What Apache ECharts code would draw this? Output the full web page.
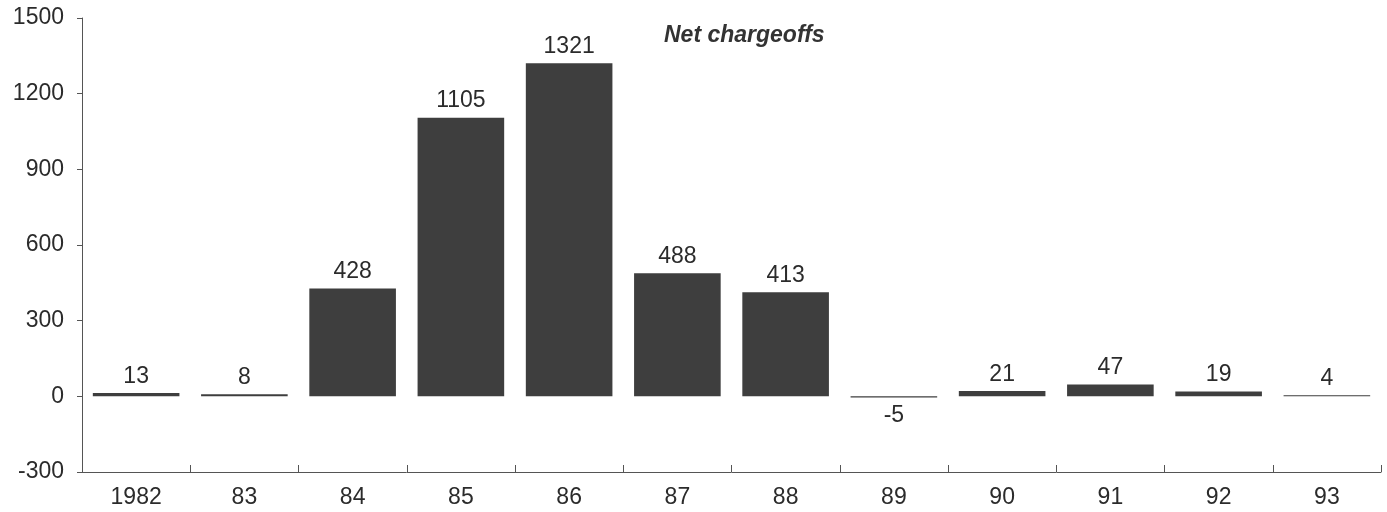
<!DOCTYPE html>
<html>
<head>
<meta charset="utf-8">
<script src="https://cdn.jsdelivr.net/npm/echarts@6/dist/echarts.min.js"></script>
<style>
  html, body { margin: 0; padding: 0; background: #fff; }
  #chart { width: 1387px; height: 512px; }
</style>
</head>
<body>
<div id="chart"></div>
<script>
// 数据
const years = ['1982', '83', '84', '85', '86', '87', '88', '89', '90', '91', '92', '93'];
const netChargeoffs = [13, 8, 428, 1105, 1321, 488, 413, -5, 21, 47, 19, 4];
const yTicks = [-300, 0, 300, 600, 900, 1200, 1500];

const textColor = '#2b2b2b';
const barColor = '#3e3e3e';

const chart = echarts.init(document.getElementById('chart'));

const option = {
  animation: false,
  backgroundColor: '#fff',
  textStyle: { fontFamily: 'Liberation Sans, Arial, sans-serif' },
  title: {
    text: 'Net chargeoffs',
    left: 659,
    top: 19,
    textStyle: {
      color: '#333',
      fontSize: 23,
      fontStyle: 'italic',
      fontWeight: 'bold'
    }
  },
  grid: {
    left: 82,
    right: 6,
    top: 18,
    bottom: 40
  },
  xAxis: {
    type: 'category',
    data: years,
    position: 'bottom',
    axisLine: { onZero: false, lineStyle: { color: '#555', width: 1 } },
    axisTick: { show: true, inside: true, length: 7, lineStyle: { color: '#555' } },
    axisLabel: { color: textColor, fontSize: 23, margin: 14 }
  },
  yAxis: {
    type: 'value',
    min: yTicks[0],
    max: yTicks[yTicks.length - 1],
    interval: 300,
    axisLine: { show: true, lineStyle: { color: '#555', width: 1 } },
    axisTick: { show: true, length: 5, lineStyle: { color: '#555' } },
    splitLine: { show: false },
    axisLabel: { color: textColor, fontSize: 23, margin: 18, formatter: v => String(v) }
  },
  series: [
    {
      type: 'bar',
      barCategoryGap: '20%',
      data: netChargeoffs.map(v => ({
        value: v,
        label: {
          show: true,
          position: v < 0 ? 'bottom' : 'top',
          distance: v < 0 ? 7 : 5,
          color: textColor,
          fontSize: 23
        }
      })),
      itemStyle: { color: barColor }
    }
  ]
};

chart.setOption(option);
</script>
</body>
</html>
